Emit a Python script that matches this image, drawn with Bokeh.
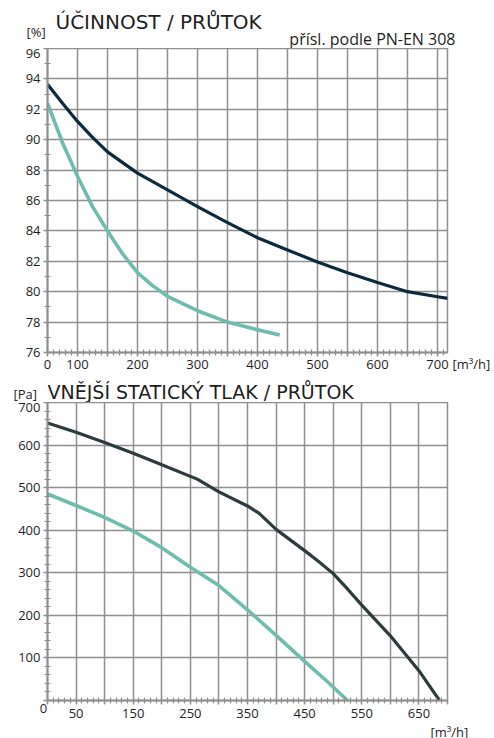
from bokeh.plotting import figure
from bokeh.models import Label, FixedTicker, Range1d
from bokeh.layouts import column
from bokeh.embed import file_html
from bokeh.resources import INLINE

# ---------------- data: efficiency vs air flow ----------------
eff_flow_dark = [50, 75, 100, 125, 150, 200, 250, 300, 350, 400, 450, 500, 550, 600, 650, 700, 717]
eff_dark = [93.65, 92.4, 91.2, 90.15, 89.2, 87.8, 86.7, 85.6, 84.55, 83.55, 82.75, 81.95, 81.25, 80.6, 80.0, 79.67, 79.56]
eff_flow_teal = [50, 75, 100, 125, 150, 175, 200, 225, 250, 300, 350, 400, 437]
eff_teal = [92.4, 89.8, 87.6, 85.6, 84.0, 82.5, 81.25, 80.4, 79.7, 78.75, 78.0, 77.5, 77.15]

# ---------------- data: external static pressure vs air flow ----------------
pres_flow_dark = [0, 50, 100, 150, 200, 262, 300, 350, 370, 400, 450, 475, 500, 525, 550, 600, 650, 686]
pres_dark = [652, 630, 606, 581, 554, 520, 490, 457, 440, 402, 352, 326, 298, 262, 224, 152, 70, 0]
pres_flow_teal = [0, 50, 100, 150, 200, 250, 300, 350, 400, 450, 490, 525]
pres_teal = [485, 458, 430, 398, 359, 313, 270, 213, 153, 92, 44, 0]

# ---------------- ticks / labels ----------------
top_x_ticks = list(range(50, 701, 50))
top_x_labels = {50: "0", 100: "100", 200: "200", 300: "300", 400: "400",
                500: "500", 600: "600", 700: "700"}
top_x_minor = list(range(50, 717, 10))
top_y_ticks = list(range(76, 97, 2))
top_y_minor = list(range(76, 97, 1))

bot_x_ticks = list(range(0, 701, 50))
bot_x_labels = {50: "50", 150: "150", 250: "250", 350: "350", 450: "450",
                550: "550", 650: "650"}
bot_x_minor = list(range(0, 701, 10))
bot_y_ticks = list(range(0, 701, 100))
bot_y_labels = {100: "100", 200: "200", 300: "300", 400: "400", 500: "500",
                600: "600", 700: "700"}
bot_y_minor = list(range(0, 701, 20))

title_top = "ÚČINNOST / PRŮTOK"
title_bot = "VNĚJŠÍ STATICKÝ TLAK / PRŮTOK"
unit_pct = "[%]"
unit_pa = "[Pa]"
unit_flow = "[m³/h]"
note_top = "přísl. podle PN-EN 308"
origin_label = "0"

GRID = "#8f8f8f"
TXT = "#1e1e1e"
DARK1 = "#0b2a3e"
DARK2 = "#2b3b3e"
TEAL = "#6dbcae"
TICK_FONT = "Open Sans"
TITLE_FONT = "DejaVu Sans"
LEFT = 47
W = 494


def style(p, xt, xlab, xmin, yt, ylab, ymin):
    p.xaxis.ticker = FixedTicker(ticks=xt, minor_ticks=xmin)
    p.yaxis.ticker = FixedTicker(ticks=yt, minor_ticks=ymin)
    p.xaxis.major_label_overrides = {t: xlab.get(t, "") for t in xt}
    p.yaxis.major_label_overrides = {t: ylab.get(t, "") for t in yt}
    for ax in (p.xaxis[0], p.yaxis[0]):
        ax.axis_line_color = GRID
        ax.axis_line_width = 2
        ax.major_tick_line_color = GRID
        ax.major_tick_line_width = 1.5
        ax.major_tick_in = 0
        ax.major_tick_out = 4
        ax.minor_tick_line_color = GRID
        ax.minor_tick_line_width = 1.2
        ax.minor_tick_in = 3
        ax.minor_tick_out = 3
        ax.major_label_text_font = TICK_FONT
        ax.major_label_text_font_size = "13px"
        ax.major_label_text_color = TXT
        ax.major_label_standoff = 3
    p.grid.grid_line_color = GRID
    p.grid.grid_line_width = 1.5
    p.outline_line_color = GRID
    p.outline_line_width = 1.5
    p.background_fill_color = "white"
    p.border_fill_color = "white"


def header(h):
    # frame starts at x = LEFT (aligned with the charts below) and runs to the window edge
    f = figure(output_backend="svg", toolbar_location=None, title_location=None,
               frame_width=W - LEFT, frame_height=h,
               x_range=Range1d(LEFT, W), y_range=Range1d(0, h),
               x_axis_type=None, y_axis_type=None, min_border=0)
    f.grid.visible = False
    f.outline_line_color = None
    f.background_fill_color = "white"
    f.border_fill_color = "white"
    return f


def lab(p, x, y, text, size, align="left", font=TICK_FONT, side=None, units="data"):
    lbl = Label(x=x, y=y, x_units=units, y_units=units,
                text=text, text_align=align, text_baseline="middle",
                text_font=font, text_font_size=size, text_color=TXT)
    if side:
        p.add_layout(lbl, side)
    else:
        p.add_layout(lbl)


# ---------------- header of the top chart ----------------
h1 = header(48)
lab(h1, 55, 26.5, title_top, "20px", font=TITLE_FONT)
lab(h1, 455, 9.3, note_top, "16px", align="right")
lab(h1, 26, 31, unit_pct, "13px", side="left", units="canvas")

# ---------------- top figure ----------------
p1 = figure(output_backend="svg", toolbar_location=None,
            frame_width=400, frame_height=304,
            x_range=Range1d(50, 716.7), y_range=Range1d(76, 96),
            min_border_left=LEFT, min_border_right=47,
            min_border_top=0, min_border_bottom=26)
style(p1, top_x_ticks, top_x_labels, top_x_minor,
      top_y_ticks, {t: str(t) for t in top_y_ticks}, top_y_minor)

p1.line(eff_flow_dark, eff_dark, line_color=DARK1, line_width=3.2, line_join="round")
p1.line(eff_flow_teal, eff_teal, line_color=TEAL, line_width=3.6, line_join="round")
lab(p1, 5, -11, unit_flow, "13px", side="right", units="screen")

# ---------------- header of the bottom chart ----------------
h2 = header(24)
lab(h2, 47, 11, title_bot, "19px", font=TITLE_FONT)
lab(h2, 13, 15.5, unit_pa, "13px", side="left", units="canvas")

# ---------------- bottom figure ----------------
p2 = figure(output_backend="svg", toolbar_location=None,
            frame_width=400, frame_height=298,
            x_range=Range1d(0, 700), y_range=Range1d(0, 700),
            min_border_left=LEFT, min_border_right=47,
            min_border_top=0, min_border_bottom=38)
style(p2, bot_x_ticks, bot_x_labels, bot_x_minor,
      bot_y_ticks, bot_y_labels, bot_y_minor)
p2.xaxis.major_label_standoff = 4

p2.line(pres_flow_dark, pres_dark, line_color=DARK2, line_width=3.2, line_join="round")
p2.line(pres_flow_teal, pres_teal, line_color=TEAL, line_width=3.6, line_join="round")
lab(p2, -17, -31, unit_flow, "13px", side="right", units="screen")
lab(p2, -442, -8, origin_label, "13px", align="center", side="right", units="screen")

layout = column(h1, p1, h2, p2)
open("out.html", "w").write(file_html(layout, INLINE))
